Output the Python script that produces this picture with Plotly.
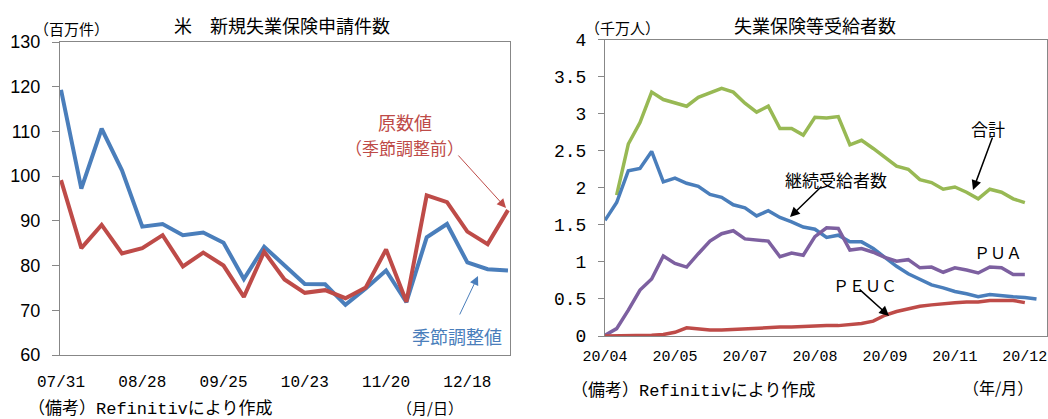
import plotly.graph_objects as go

W, H = 1048, 419

# ---------------- data: left chart ----------------
left_dates = ["07/31", "08/07", "08/14", "08/21", "08/28", "09/04", "09/11", "09/18",
              "09/25", "10/02", "10/09", "10/16", "10/23", "10/30", "11/06", "11/13",
              "11/20", "11/27", "12/04", "12/11", "12/18", "12/25", "01/01"]
left_tick_labels = ["07/31", "08/28", "09/25", "10/23", "11/20", "12/18"]
seasonally_adjusted = [119.3, 97.2, 110.6, 101.3, 88.7, 89.3, 86.8, 87.4, 85.1, 77.0, 84.2,
                       80.0, 75.9, 75.8, 71.2, 74.9, 78.9, 71.8, 86.3, 89.3, 80.7, 79.2, 78.9]
not_adjusted = [99.1, 83.9, 89.1, 82.7, 83.9, 86.8, 79.8, 82.9, 80.0, 73.0, 83.1,
                76.9, 73.9, 74.5, 72.7, 75.1, 83.6, 71.9, 95.7, 94.2, 87.6, 84.8, 92.4]

# ---------------- data: right chart ----------------
right_weeks = list(range(38))
right_tick_pos = [0, 6, 12, 18, 24, 30, 36]
right_tick_labels = ["20/04", "20/05", "20/07", "20/08", "20/09", "20/11", "20/12"]
total = [None, 1.90, 2.59, 2.88, 3.29, 3.19, 3.14, 3.10, 3.22, 3.28, 3.34, 3.29, 3.14,
         3.02, 3.10, 2.80, 2.80, 2.71, 2.95, 2.94, 2.96, 2.58, 2.64, 2.53, 2.41, 2.29,
         2.25, 2.11, 2.07, 1.98, 2.01, 1.94, 1.85, 1.98, 1.94, 1.85, 1.80, None]
continuing = [1.56, 1.80, 2.23, 2.26, 2.49, 2.08, 2.13, 2.06, 2.02, 1.91, 1.87, 1.77, 1.73,
              1.62, 1.69, 1.60, 1.54, 1.47, 1.44, 1.33, 1.36, 1.27, 1.27, 1.18, 1.06, 0.94,
              0.84, 0.76, 0.69, 0.65, 0.60, 0.57, 0.53, 0.56, 0.54, 0.53, 0.52, 0.50]
pua = [0.01, 0.10, 0.35, 0.62, 0.77, 1.08, 0.98, 0.93, 1.11, 1.28, 1.38, 1.42, 1.31,
       1.29, 1.28, 1.07, 1.12, 1.09, 1.34, 1.46, 1.45, 1.16, 1.18, 1.13, 1.06, 1.01,
       1.03, 0.92, 0.93, 0.86, 0.92, 0.89, 0.85, 0.93, 0.92, 0.83, 0.83, None]
peuc = [0.0, 0.0, 0.0, 0.01, 0.01, 0.02, 0.05, 0.11, 0.09, 0.08, 0.08, 0.09, 0.09,
        0.10, 0.11, 0.12, 0.12, 0.13, 0.13, 0.14, 0.14, 0.15, 0.17, 0.20, 0.28, 0.33,
        0.37, 0.40, 0.42, 0.44, 0.45, 0.46, 0.46, 0.48, 0.48, 0.48, 0.45, None]

BLUE = "#4A7EBB"
RED = "#BE4B48"
GREEN = "#98B954"
PURPLE = "#7D60A0"
AXIS = "#878787"
JP = "Noto Sans CJK JP"
MONO = "Liberation Mono"


def px(x):
    return x / W


def py(y):
    return 1 - y / H


fig = go.Figure()
fig.add_trace(go.Scatter(x=left_dates, y=seasonally_adjusted, mode="lines",
                         line=dict(color=BLUE, width=4), xaxis="x", yaxis="y",
                         showlegend=False))
fig.add_trace(go.Scatter(x=left_dates, y=not_adjusted, mode="lines",
                         line=dict(color=RED, width=4), xaxis="x", yaxis="y",
                         showlegend=False))
fig.add_trace(go.Scatter(x=right_weeks, y=total, mode="lines",
                         line=dict(color=GREEN, width=3.5), xaxis="x2", yaxis="y2",
                         showlegend=False))
fig.add_trace(go.Scatter(x=right_weeks, y=continuing, mode="lines",
                         line=dict(color=BLUE, width=3.5), xaxis="x2", yaxis="y2",
                         showlegend=False))
fig.add_trace(go.Scatter(x=right_weeks, y=pua, mode="lines",
                         line=dict(color=PURPLE, width=3.5), xaxis="x2", yaxis="y2",
                         showlegend=False))
fig.add_trace(go.Scatter(x=right_weeks, y=peuc, mode="lines",
                         line=dict(color=RED, width=3.5), xaxis="x2", yaxis="y2",
                         showlegend=False))

common_axis = dict(showline=True, linecolor=AXIS, linewidth=1, mirror=True,
                   showgrid=False, zeroline=False, automargin=False)

annotations = []


def text(x, y, s, size=17, color="black", family=JP, xanchor="center"):
    annotations.append(dict(x=px(x), y=py(y), xref="paper", yref="paper", text=s,
                            showarrow=False, xanchor=xanchor, yanchor="middle",
                            font=dict(family=family, size=size, color=color)))


def arrow(tx, ty, hx, hy, color="black", width=1.5, size=1.3):
    annotations.append(dict(x=px(hx), y=py(hy), xref="paper", yref="paper", text="",
                            showarrow=True, axref="pixel", ayref="pixel",
                            ax=tx - hx, ay=ty - hy, arrowhead=2, arrowsize=size,
                            arrowwidth=width, arrowcolor=color, standoff=0))


REF = '<span style="font-family:Liberation Mono">Refinitiv</span>'

# left chart texts
text(282, 25, "米　新規失業保険申請件数", size=18)
text(71, 29, "（百万件）", size=15)
text(405, 122, "原数値", size=18, color=RED)
text(404, 147, "（季節調整前）", size=17, color=RED)
arrow(457, 154, 506, 208, color=RED, width=1, size=1.8)
text(457, 336, "季節調整値", size=18, color=BLUE)
arrow(459, 316, 478, 276, color=BLUE, width=1, size=1.8)
text(150, 406, "（備考）" + REF + "により作成", size=17)
text(430, 407, "（月/日）", size=15)

# right chart texts
text(815, 25, "失業保険等受給者数", size=18)
text(622, 27, "（千万人）", size=15)
text(988, 128, "合計", size=17)
arrow(993, 136, 973, 190)
text(836, 179, "継続受給者数", size=17)
arrow(823, 185, 790, 217)
text(998, 252, "ＰＵＡ", size=16)
text(865, 285, "ＰＥＵＣ", size=16)
arrow(858, 288, 889, 316)
text(693, 388, "（備考）" + REF + "により作成", size=17)
text(998, 387, "（年/月）", size=16)

fig.update_layout(
    width=W, height=H,
    margin=dict(l=0, r=0, t=0, b=0, autoexpand=False),
    paper_bgcolor="white", plot_bgcolor="white",
    xaxis=dict(domain=[px(60), px(510)], type="category", range=[-0.05, 22.1],
               tickmode="array", tickvals=left_tick_labels, ticktext=left_tick_labels,
               ticks="", tickfont=dict(family=MONO, size=16, color="black"),
               ticklabelstandoff=12, anchor="y", **common_axis),
    yaxis=dict(domain=[py(355), py(42)], range=[60, 130], dtick=10, ticks="outside",
               ticklen=7, tickcolor=AXIS, tickfont=dict(family="Liberation Sans", size=18,
                                                        color="black"),
               ticklabelstandoff=8, anchor="x", **common_axis),
    xaxis2=dict(domain=[px(605), px(1047)], range=[0, 37.9], tickmode="array",
                tickvals=right_tick_pos, ticktext=right_tick_labels, ticks="",
                tickfont=dict(family=MONO, size=15, color="black"),
                ticklabelstandoff=6, anchor="y2", **common_axis),
    yaxis2=dict(domain=[py(336), py(39.5)], range=[0, 4], dtick=0.5, ticks="outside",
                ticklen=6, tickcolor=AXIS,
                tickfont=dict(family=MONO, size=18, color="black"),
                ticklabelstandoff=8, anchor="x2", **common_axis),
    annotations=annotations,
)

fig.write_html("out.html", config={"displayModeBar": False},
               post_script="document.body.style.margin='0';document.body.style.overflow='hidden';")
